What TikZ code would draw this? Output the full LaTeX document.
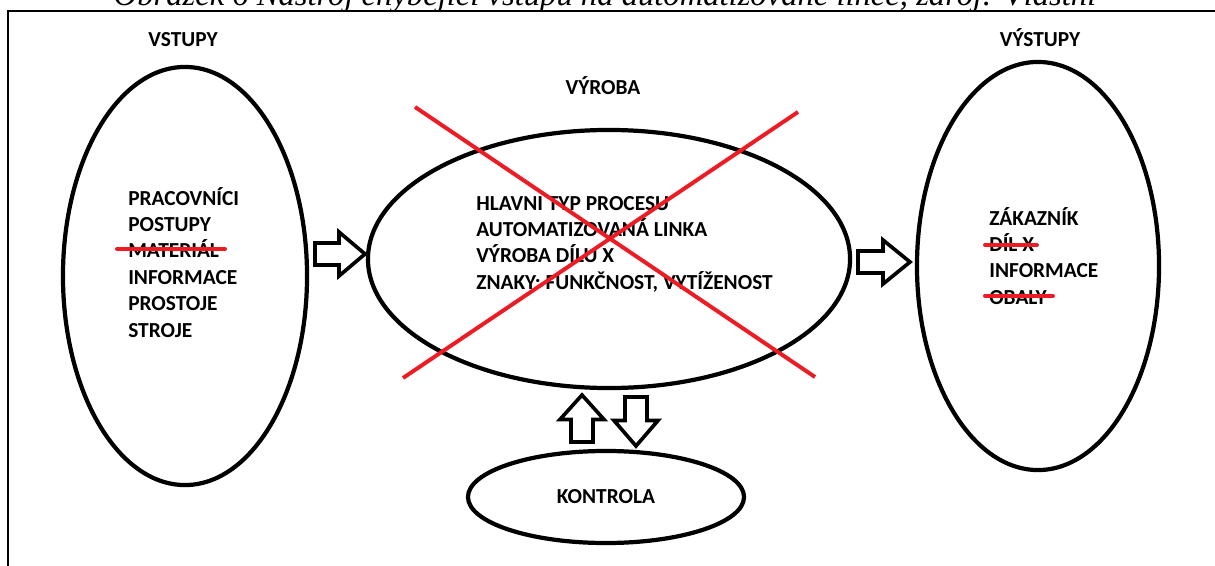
\documentclass[tikz,border=0pt]{standalone}
\usepackage{fontspec}
\setmainfont{Liberation Serif}
\newfontfamily\calib{Carlito}
\usetikzlibrary{shapes.geometric}

\definecolor{pred}{RGB}{237,28,36}

% block arrow: tail point, angle, length
\newcommand{\fatarrow}[3]{%
    \draw[fat, shift={#1}, rotate=#2] (0,-11) -- (0.48*#3,-11) -- (0.48*#3,-22)
        -- (#3,0) -- (0.48*#3,22) -- (0.48*#3,11) -- (0,11) -- cycle;}

\begin{document}
\begin{tikzpicture}[x=0.025cm, y=-0.025cm,
    bubble/.style={draw, ellipse, line width=3pt, inner sep=0pt},
    lbl/.style={font=\calib\bfseries\fontsize{15.2}{18}\selectfont, inner sep=0pt},
    item/.style={lbl, anchor=base west},
    strike/.style={draw=pred, line width=2.8pt},
    fat/.style={draw, line width=2.6pt, fill=white}]
    \path[use as bounding box, clip] (0,0) rectangle (1215,565);

    % caption (cut off at the top) and frame
    \node[font=\itshape\fontsize{23.2}{28}\selectfont, anchor=base, inner sep=0pt] (cap) at (605,6)
        {Obrázek 6 Nástroj chybějící vstupů na automatizované lince, zdroj: Vlastní};
    \draw[line width=1.4pt] (8,600) -- (8,11) -- (1230,11);

    % the four ellipses
    \node[bubble, minimum width=6.1cm, minimum height=10.45cm] (vstupy) at (185,276) {};
    \node[bubble, minimum width=12.05cm, minimum height=6.45cm] (vyroba) at (609,259) {};
    \node[bubble, minimum width=6.05cm, minimum height=10.2cm] (vystupy) at (1038,266) {};
    \node[bubble, lbl, minimum width=6.9cm, minimum height=2.3cm] (kontrola) at (606,497) {KONTROLA};

    \node[lbl, anchor=base] (tin) at (183,46.5) {VSTUPY};
    \node[lbl, anchor=base] (tmid) at (603,95) {VÝROBA};
    \node[lbl, anchor=base] (tout) at (1040,46.5) {VÝSTUPY};

    \foreach \t [count=\i] in {PRACOVNÍCI, POSTUPY, MATERIÁL, INFORMACE, PROSTOJE, STROJE}
        \node[item] (in\i) at (128, 205+26.4*\i-26.4) {\t};
    \foreach \t [count=\i] in {HLAVNI TYP PROCESU, AUTOMATIZOVANÁ LINKA, VÝROBA DÍLU X,
                               {ZNAKY: FUNKČNOST, VYTÍŽENOST}}
        \node[item] (mid\i) at (476, 210+26.4*\i-26.4) {\t};
    \foreach \t [count=\i] in {ZÁKAZNÍK, DÍL X, INFORMACE, OBALY}
        \node[item] (out\i) at (989, 225+26.4*\i-26.4) {\t};

    % block arrows
    \coordinate (a1) at (315,254);
    \coordinate (a2) at (858,262);
    \coordinate (a3) at (582,442);
    \coordinate (a4) at (636,397);
    \fatarrow{(a1)}{0}{50}
    \fatarrow{(a2)}{0}{52}
    \fatarrow{(a3)}{90}{47}
    \fatarrow{(a4)}{-90}{49}

    % red corrections
    \draw[strike, line cap=round] (117,249) -- (225,249);
    \draw[strike, line cap=round] (985,245) -- (1037,245);
    \draw[strike, line cap=round] (985,296) -- (1053,296);
    \draw[strike] (415,107) -- (815,377);
    \draw[strike] (798,112) -- (403,378);
\end{tikzpicture}
\end{document}
